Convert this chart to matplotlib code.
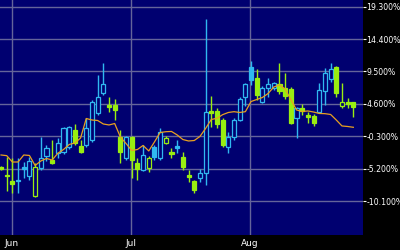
import matplotlib
matplotlib.use('Agg')
import matplotlib.pyplot as plt
import numpy as np

# daily candles, values in percent
opens = [-4.94, -6.15, -7.06, -6.91, -4.94, -6.31, -9.33, -5.10, -3.28, -3.89,
         -2.83, -2.68, -1.92, 0.65, -1.77, -1.62, -0.86, 3.22, 6.25, 4.43,
         4.43, -0.41, -3.58, -0.41, -4.34, -5.40, -5.10, -1.92, -3.58, -1.31,
         -2.68, -1.77, -3.43, -6.15, -7.06, -6.61, -5.85, 3.53, 3.53, 2.16,
         -1.92, -0.41, 2.16, 5.64, 10.18, 8.52, 4.89, 7.00, 7.00, 7.61,
         7.00, 6.85, 2.47, 3.98, 2.92, 2.77, 3.37, 6.55, 8.37, 10.18,
         4.28, 4.89, 4.89]
highs = [-4.79, -3.43, -3.58, -3.58, -4.19, -3.43, -4.34, -0.41, -1.62, -0.86,
         -0.56, 1.11, 1.26, 1.56, -0.86, 2.47, 5.19, 8.97, 10.79, 5.64,
         5.34, 0.65, -0.26, -0.26, -3.58, -1.62, -3.28, -1.62, 0.95, -0.26,
         -2.07, -0.86, -2.68, -5.40, -6.91, -5.25, 17.44, 5.79, 3.98, 2.47,
         0.35, 2.47, 5.64, 7.76, 11.09, 9.88, 7.31, 8.52, 7.91, 10.79,
         9.27, 7.15, 4.13, 4.58, 3.37, 3.07, 7.76, 10.03, 10.79, 10.33,
         7.76, 5.49, 4.89]
lows = [-5.40, -8.57, -8.88, -8.88, -6.61, -6.91, -9.48, -5.40, -4.04, -4.49,
        -3.58, -2.98, -2.22, -1.62, -2.83, -1.92, -1.16, 2.92, 5.94, 3.37,
        2.16, -4.34, -3.89, -6.61, -6.91, -5.55, -5.70, -3.89, -3.89, -1.46,
        -3.58, -2.83, -5.40, -7.21, -8.88, -7.21, -7.67, 1.11, 0.95, -1.92,
        -2.83, -0.86, 2.01, 4.28, 7.46, 5.19, 4.74, 5.64, 6.70, 6.10,
        5.34, 1.56, -0.56, 2.92, 1.71, 1.26, 3.22, 4.43, 7.91, 5.64,
        3.98, 3.98, 2.62]
closes = [-5.25, -6.31, -7.52, -7.13, -5.25, -4.04, -4.94, -3.58, -2.07, -4.34,
          -1.31, 0.95, 1.03, -1.31, -2.68, 0.95, 4.89, 5.64, 7.61, 4.13,
          3.68, -2.68, -0.41, -3.89, -5.25, -3.13, -3.58, -3.50, 0.35, -0.56,
          -2.98, -2.07, -4.94, -6.46, -8.42, -5.85, 3.37, 3.22, 1.56, -1.62,
          -0.41, 2.16, 5.34, 7.61, 8.21, 5.94, 7.00, 7.61, 7.76, 6.55,
          5.79, 1.71, 3.98, 3.53, 2.62, 1.71, 6.70, 9.27, 9.88, 6.25,
          4.89, 4.58, 4.13]
moving_avg = [-3.13, -3.23, -4.19, -4.19, -3.13, -3.20, -4.72, -4.04, -3.66, -3.89,
              -2.87, -2.30, -1.54, -1.31, -0.56, 2.39, 2.16, 2.09, 1.56, 1.41,
              1.63, -0.41, -1.39, -2.45, -2.30, -1.69, -2.52, -1.16, 0.27, 0.39,
              0.43, -0.10, -0.79, -1.01, -0.94, -0.33, 0.88, 2.24, 2.42, 2.97,
              3.30, 3.42, 3.30, 3.42, 4.96, 5.26, 5.57, 6.17, 7.15, 7.46,
              6.85, 5.26, 3.68, 3.45, 3.53, 3.37, 3.15, 3.12, 3.00, 2.16,
              1.26, 1.18, 1.06]

month_pos = [1.85, 22.85, 43.85]
month_labels = ['Jun', 'Jul', 'Aug']
y_ticks = [19.3, 14.4, 9.5, 4.6, -0.3, -5.2, -10.1]

bg = '#000070'
up_col = '#30b8f0'
down_col = '#99ee11'

fig = plt.figure(figsize=(4, 2.5), dpi=100, facecolor='black')
ax = fig.add_axes([0, 0.06, 0.9075, 0.94], facecolor=bg)

x = np.arange(len(closes))
prev = [closes[0] + 1] + closes[:-1]
for i in x:
    o, h, l, c = opens[i], highs[i], lows[i], closes[i]
    col = up_col if c >= prev[i] else down_col
    ax.vlines(i, l, h, color=col, lw=1, zorder=3)
    hollow = c > o
    ax.bar(i, abs(c - o), bottom=min(o, c), width=0.72,
           facecolor=bg if hollow else col, edgecolor=col, lw=0.9, zorder=4)

ax.plot(x, moving_avg, color='#e8a020', lw=0.9, zorder=5)

ax.set_xlim(-0.18, 63.7)
ax.set_ylim(-15.23, 20.31)
ax.set_xticks(month_pos)
ax.set_xticklabels(month_labels)
ax.set_yticks(y_ticks)
ax.set_yticklabels(['%.3f%%' % v for v in y_ticks])
ax.yaxis.tick_right()
ax.grid(True, color='#64649a', lw=1)
ax.set_axisbelow(True)
for s in ax.spines.values():
    s.set_visible(False)
ax.tick_params(axis='y', colors='white', length=2, width=0.8, pad=0.5, labelsize=5.6)
ax.tick_params(axis='x', colors='white', length=0, pad=3, labelsize=6.5)

fig.savefig('out.png', dpi=100, facecolor='black')
